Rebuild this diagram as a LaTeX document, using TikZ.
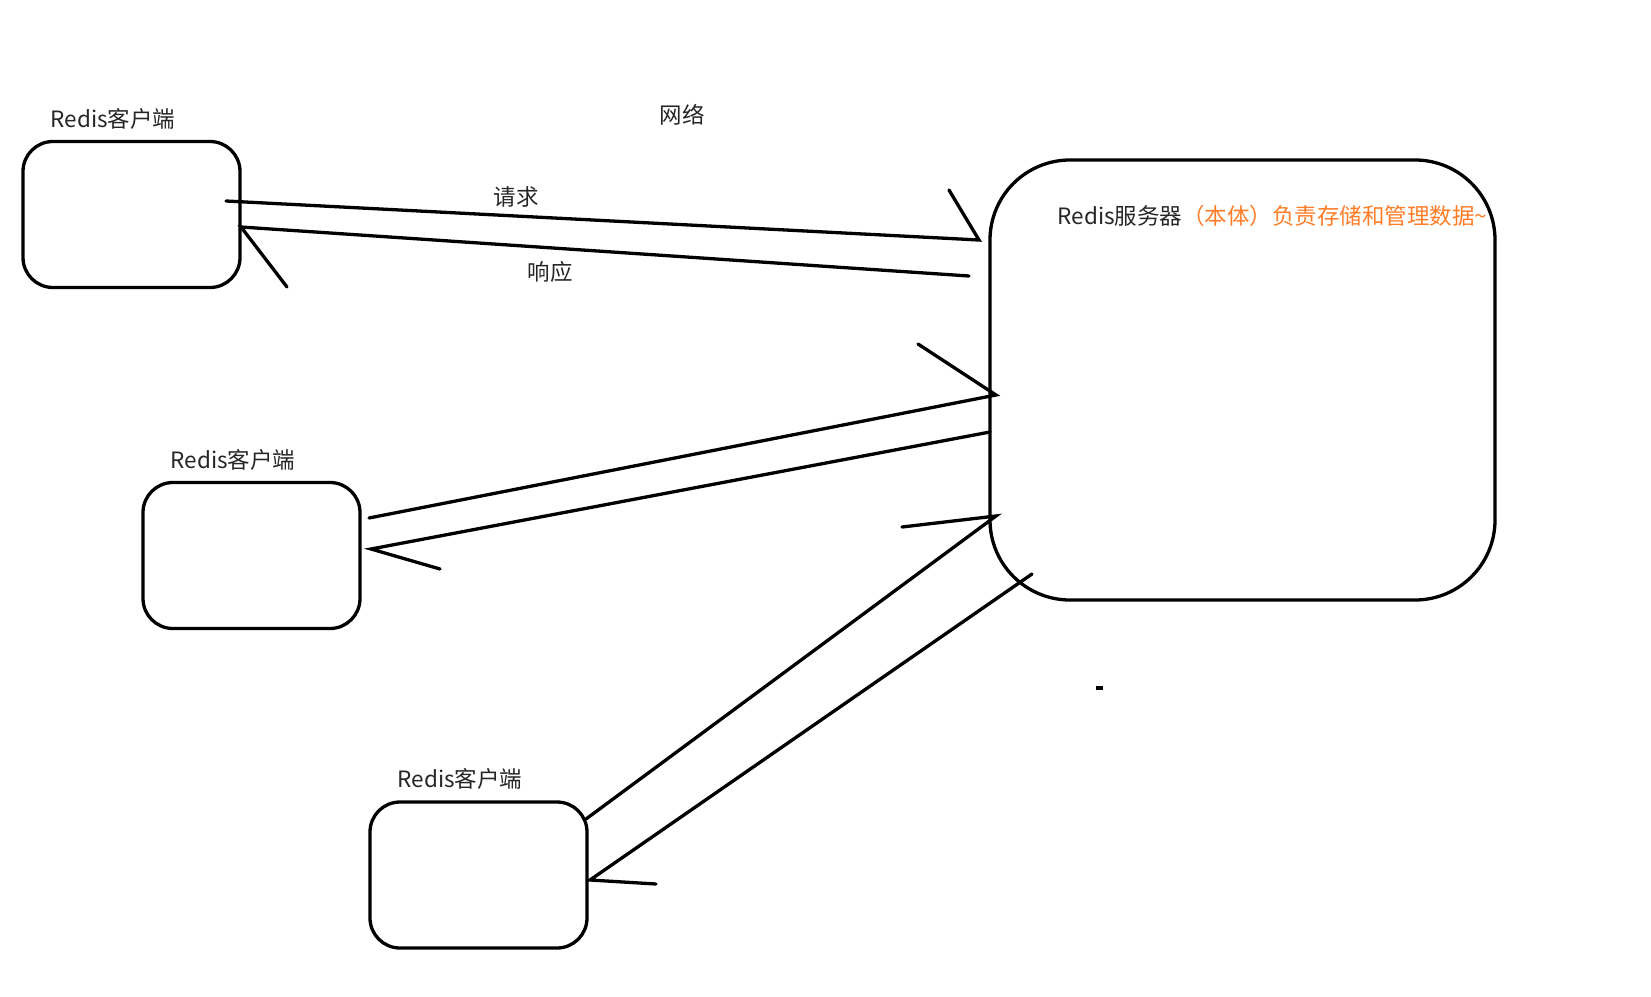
\documentclass[tikz,border=0pt]{standalone}
\usepackage{fontspec}
\setmainfont{Noto Sans CJK SC}
\usepackage{tikz}
\definecolor{noteorange}{RGB}{255,125,40}
\tikzset{client/.style={rectangle, rounded corners=30pt, draw=black, line width=3.3pt, minimum width=217pt, minimum height=146pt},
  server/.style={rectangle, rounded corners=80pt, draw=black, line width=3.3pt, minimum width=505pt, minimum height=440pt},
  label/.style={text=black!85, font=\fontsize{22.5}{26}\selectfont},
  wire/.style={line width=3.3pt, line cap=round, line join=miter}}

\begin{document}
\begin{tikzpicture}[x=1pt, y=-1pt]
\useasboundingbox (0,0) rectangle (1651,996);

\node (client1) [client] at (131.5,214.5) {};
\node (client2) [client] at (251.5,555.5) {};
\node (client3) [client] at (478.5,875) {};
\node (server) [server] at (1242.5,380) {};

\node (c1label) [label] at (113,119) {Redis客户端};
\node (c2label) [label] at (233,460) {Redis客户端};
\node (c3label) [label] at (460,779) {Redis客户端};
\node (net) [label] at (682,115) {网络};
\node (req) [label] at (516,197) {请求};
\node (resp) [label] at (550,272) {响应};
\node (srvlabel) [label, anchor=west] at (1054,216) {Redis服务器\textcolor{noteorange}{（本体）负责存储和管理数据\textasciitilde}};

% ends of the hand drawn lines
\coordinate (req1a) at (226,201);
\coordinate (req1b) at (979,240);
\coordinate (req1h) at (949,190);
\coordinate (resp1a) at (969,276);
\coordinate (resp1b) at (241,227);
\coordinate (resp1h) at (287,287);
\coordinate (req2a) at (369,518);
\coordinate (req2b) at (996,395);
\coordinate (req2h) at (918,344);
\coordinate (resp2a) at (990,432);
\coordinate (resp2b) at (371,549);
\coordinate (resp2h) at (440,569);
\coordinate (req3a) at (586,819);
\coordinate (req3b) at (996,516);
\coordinate (req3h) at (902,527);
\coordinate (resp3a) at (1032,574);
\coordinate (resp3b) at (590,880);
\coordinate (resp3h) at (656,884);

\draw [wire] (req1a) -- (req1b) -- (req1h);
\draw [wire] (resp1a) -- (resp1b) -- (resp1h);
\draw [wire] (req2a) -- (req2b) -- (req2h);
\draw [wire] (resp2a) -- (resp2b) -- (resp2h);
\draw [wire] (req3a) -- (req3b) -- (req3h);
\draw [wire] (resp3a) -- (resp3b) -- (resp3h);

\node (dot) [fill=black, inner sep=0pt, minimum width=7pt, minimum height=4pt] at (1099,688) {};

\end{tikzpicture}
\end{document}
